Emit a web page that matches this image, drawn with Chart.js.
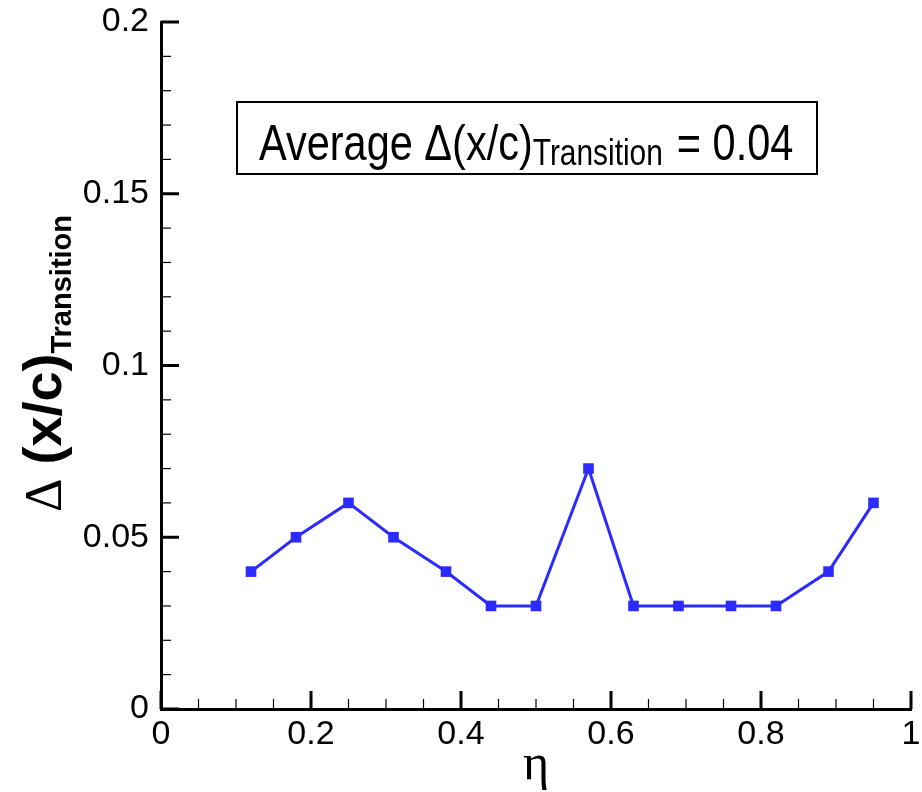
<!DOCTYPE html>
<html>
<head>
<meta charset="utf-8">
<script src="https://cdn.jsdelivr.net/npm/chart.js@4.4.1/dist/chart.umd.min.js"></script>
<style>
  html, body { margin: 0; padding: 0; background: #fff; }
  #wrap { width: 922px; height: 792px; }
</style>
</head>
<body>
<div id="wrap"><canvas id="transition"></canvas></div>
<script>
// eta positions along the span and the transition shift at each one
const etaValues = [0.12, 0.18, 0.25, 0.31, 0.38, 0.44, 0.50, 0.57, 0.63, 0.69, 0.76, 0.82, 0.89, 0.95]
const deltaValues = [0.04, 0.05, 0.06, 0.05, 0.04, 0.03, 0.03, 0.07, 0.03, 0.03, 0.03, 0.03, 0.04, 0.06]
const xTickLabels = ['0', '0.2', '0.4', '0.6', '0.8', '1']
const yTickLabels = ['0', '0.05', '0.1', '0.15', '0.2']
const averageText = '0.04'

const lineBlue = '#2b2bff'

// inward major + minor ticks, axis titles and the boxed note
const decorations = {
    id: 'decorations',
    afterDraw(chart) {
        const ctx = chart.ctx
        const xs = chart.scales.x
        const ys = chart.scales.y
        const area = chart.chartArea
        ctx.save()
        ctx.strokeStyle = '#000'

        // x ticks
        for (let v = 0; v <= 1.0001; v += 0.05) {
            const px = xs.getPixelForValue(v)
            const major = Math.abs(v / 0.2 - Math.round(v / 0.2)) < 1e-6
            ctx.lineWidth = major ? 3 : 1.2
            ctx.beginPath()
            ctx.moveTo(px, area.bottom)
            ctx.lineTo(px, area.bottom - (major ? 18 : 10))
            ctx.stroke()
        }
        // y ticks
        for (let v = 0; v <= 0.2001; v += 0.01) {
            const py = ys.getPixelForValue(v)
            const major = Math.abs(v / 0.05 - Math.round(v / 0.05)) < 1e-6
            ctx.lineWidth = major ? 3 : 1.2
            ctx.beginPath()
            ctx.moveTo(area.left, py)
            ctx.lineTo(area.left + (major ? 18 : 10), py)
            ctx.stroke()
        }

        ctx.fillStyle = '#000'

        // x title
        ctx.font = '50px "Liberation Serif"'
        ctx.textAlign = 'center'
        ctx.textBaseline = 'alphabetic'
        ctx.fillText('η', (area.left + area.right) / 2, 779)

        // y title, rotated
        ctx.save()
        ctx.translate(61, 512)
        ctx.rotate(-Math.PI / 2)
        ctx.textAlign = 'left'
        ctx.font = '52px "Liberation Serif"'
        ctx.fillText('Δ', 0, 0)
        let off = ctx.measureText('Δ').width + 14
        ctx.font = 'bold 54px "Liberation Sans"'
        ctx.fillText('(x/c)', off, 0)
        off += ctx.measureText('(x/c)').width
        ctx.font = 'bold 29px "Liberation Sans"'
        ctx.fillText('Transition', off, 10)
        ctx.restore()

        // boxed average note
        ctx.lineWidth = 2
        ctx.strokeRect(237, 102, 580, 72)
        ctx.save()
        ctx.translate(259, 160)
        ctx.scale(0.83, 1)
        ctx.textAlign = 'left'
        ctx.font = '50px "Liberation Sans"'
        ctx.fillText('Average Δ(x/c)', 0, 0)
        let w = ctx.measureText('Average Δ(x/c)').width
        ctx.font = '36px "Liberation Sans"'
        ctx.fillText('Transition', w, 5)
        w += ctx.measureText('Transition').width + 3
        ctx.font = '50px "Liberation Sans"'
        ctx.fillText(' = ' + averageText, w, 0)
        ctx.restore()

        ctx.restore()
    }
}

const ctx = document.getElementById('transition')
const chart = new Chart(ctx, {
    type: 'scatter',
    data: {
        datasets: [{
            data: etaValues.map((e, i) => ({ x: e, y: deltaValues[i] })),
            showLine: true,
            borderColor: lineBlue,
            backgroundColor: lineBlue,
            borderWidth: 3,
            pointStyle: 'rect',
            pointRadius: 7.5,
            pointBorderWidth: 0,
            tension: 0
        }]
    },
    options: {
        responsive: true,
        maintainAspectRatio: false,
        animation: false,
        layout: { padding: { top: 22, right: 11, left: 0, bottom: 0 } },
        plugins: {
            legend: { display: false },
            tooltip: { enabled: false }
        },
        scales: {
            x: {
                type: 'linear',
                min: 0,
                max: 1,
                afterFit(scale) {
                    scale.height = 83
                    scale.paddingLeft = 0
                    scale.paddingRight = 0
                },
                grid: { display: false, drawTicks: false },
                border: { display: true, color: '#000', width: 3 },
                ticks: {
                    stepSize: 0.2,
                    padding: 5,
                    color: '#000',
                    font: { family: '"Liberation Sans"', size: 34 },
                    maxRotation: 0,
                    callback: (v, i) => xTickLabels[i]
                }
            },
            y: {
                type: 'linear',
                min: 0,
                max: 0.2,
                afterFit(scale) {
                    scale.width = 161
                    scale.paddingTop = 0
                    scale.paddingBottom = 0
                },
                grid: { display: false, drawTicks: false },
                border: { display: true, color: '#000', width: 3 },
                ticks: {
                    stepSize: 0.05,
                    padding: 12,
                    color: '#000',
                    font: { family: '"Liberation Sans"', size: 34 },
                    callback: (v, i) => yTickLabels[i]
                }
            }
        }
    },
    plugins: [decorations]
})
</script>
</body>
</html>
